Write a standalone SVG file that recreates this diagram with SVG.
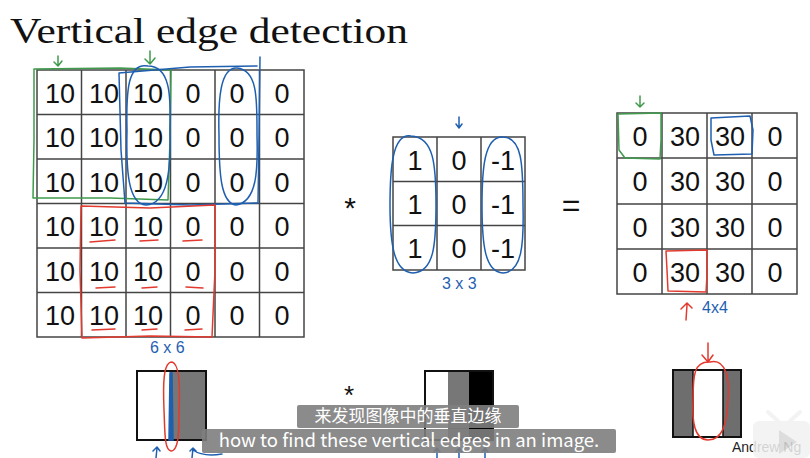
<svg xmlns="http://www.w3.org/2000/svg" width="810" height="458" viewBox="0 0 810 458">
  <defs>
    <style>
      .grid { fill: #fff; stroke: #444; stroke-width: 1.5; }
      .num { font-family: "Liberation Sans", Arial, sans-serif; font-size: 27px; fill: #111; text-anchor: middle; }
      .op { font-family: "Liberation Sans", Arial, sans-serif; fill: #111; text-anchor: middle; }
      .ink { fill: none; stroke-width: 1.5; stroke-linecap: round; stroke-linejoin: round; }
      .g { stroke: #3f9a4c; }
      .b { stroke: #1f5fb0; }
      .r { stroke: #e23a2e; }
      .hand { font-family: "Liberation Sans", Arial, sans-serif; font-size: 16px; fill: #1f5fb0; }
      .sub { fill: #7e7e7e; fill-opacity: 0.9; }
      .subtxt { font-family: "Noto Sans CJK SC", "Noto Sans", sans-serif; fill: #fff; text-anchor: middle; }
    </style>
  </defs>

  <rect width="810" height="458" fill="#fff"/>

  <!-- title -->
  <text x="10" y="43" font-family="'Liberation Serif', 'DejaVu Serif', serif" font-size="36" fill="#111" textLength="398" lengthAdjust="spacingAndGlyphs">Vertical edge detection</text>

  <!-- 6x6 input image -->
  <g id="input-matrix">
    <rect class="grid" x="37" y="70" width="267" height="267"/>
    <path d="M81.5 70V337M126 70V337M170.5 70V337M215 70V337M259.5 70V337M37 114.5H304M37 159H304M37 203.5H304M37 248H304M37 292.5H304" stroke="#444" stroke-width="1.5"/>
    <g class="num">
      <text x="60" y="103">10</text><text x="104" y="103">10</text><text x="148" y="103">10</text><text x="193" y="103">0</text><text x="237" y="103">0</text><text x="282" y="103">0</text>
      <text x="60" y="147">10</text><text x="104" y="147">10</text><text x="148" y="147">10</text><text x="193" y="147">0</text><text x="237" y="147">0</text><text x="282" y="147">0</text>
      <text x="60" y="192">10</text><text x="104" y="192">10</text><text x="148" y="192">10</text><text x="193" y="192">0</text><text x="237" y="192">0</text><text x="282" y="192">0</text>
      <text x="60" y="236">10</text><text x="104" y="236">10</text><text x="148" y="236">10</text><text x="193" y="236">0</text><text x="237" y="236">0</text><text x="282" y="236">0</text>
      <text x="60" y="281">10</text><text x="104" y="281">10</text><text x="148" y="281">10</text><text x="193" y="281">0</text><text x="237" y="281">0</text><text x="282" y="281">0</text>
      <text x="60" y="325">10</text><text x="104" y="325">10</text><text x="148" y="325">10</text><text x="193" y="325">0</text><text x="237" y="325">0</text><text x="282" y="325">0</text>
    </g>
  </g>

  <!-- 3x3 filter -->
  <g id="filter">
    <rect class="grid" x="393" y="137" width="132" height="133"/>
    <path d="M437 137V270M481 137V270M393 181.5H525M393 225.5H525" stroke="#444" stroke-width="1.5"/>
    <g class="num">
      <text x="415" y="170">1</text><text x="459" y="170">0</text><text x="503" y="170">-1</text>
      <text x="415" y="214">1</text><text x="459" y="214">0</text><text x="503" y="214">-1</text>
      <text x="415" y="258">1</text><text x="459" y="258">0</text><text x="503" y="258">-1</text>
    </g>
  </g>

  <!-- 4x4 output -->
  <g id="output-matrix">
    <rect class="grid" x="617" y="113" width="180" height="181"/>
    <path d="M662 113V294M707 113V294M752 113V294M617 158H797M617 204H797M617 249H797" stroke="#444" stroke-width="1.5"/>
    <g class="num">
      <text x="640" y="146">0</text><text x="685" y="146">30</text><text x="730" y="146">30</text><text x="775" y="146">0</text>
      <text x="640" y="191">0</text><text x="685" y="191">30</text><text x="730" y="191">30</text><text x="775" y="191">0</text>
      <text x="640" y="237">0</text><text x="685" y="237">30</text><text x="730" y="237">30</text><text x="775" y="237">0</text>
      <text x="640" y="282">0</text><text x="685" y="282">30</text><text x="730" y="282">30</text><text x="775" y="282">0</text>
    </g>
  </g>

  <!-- operators -->
  <g id="operators">
    <text class="op" x="350" y="218" font-size="30">*</text>
    <text class="op" x="571" y="216" font-size="32">=</text>
    <text class="op" x="349" y="404" font-size="26">*</text>
  </g>

  <!-- picture versions of the three matrices -->
  <g id="input-image">
    <rect x="137" y="371" width="33" height="69" fill="#fff"/>
    <rect x="170" y="371" width="36" height="69" fill="#777"/>
    <rect x="137" y="371" width="69" height="69" fill="none" stroke="#111" stroke-width="2"/>
  </g>
  <g id="filter-image">
    <rect x="425" y="371" width="23" height="69" fill="#fff"/>
    <rect x="448" y="371" width="21" height="69" fill="#777"/>
    <rect x="469" y="371" width="24" height="69" fill="#000"/>
    <rect x="425" y="371" width="68" height="69" fill="none" stroke="#111" stroke-width="2"/>
  </g>
  <g id="output-image">
    <rect x="673" y="370" width="20" height="67" fill="#6e6e6e"/>
    <rect x="693" y="370" width="30" height="67" fill="#fff"/>
    <rect x="723" y="370" width="18" height="67" fill="#6e6e6e"/>
    <path d="M693 370V437M723 370V437" stroke="#111" stroke-width="1.5"/>
    <rect x="673" y="370" width="68" height="67" fill="none" stroke="#111" stroke-width="2"/>
  </g>

  <!-- pen annotations -->
  <g id="annotations">
    <!-- green: top-left window and result -->
    <path class="ink g" d="M58 56V66M54 62L58 66L62 61M150 51V64M145 59L150 64L155 58"/>
    <path class="ink g" d="M34 69L120 68L171 70L170 140L168 200L110 198L33 198L34 140Z"/>
    <path class="ink g" d="M640 96V107M636 103L640 107L644 103"/>
    <path class="ink g" d="M618 114L661 113L661 140L660 159L625 158L619 150Z"/>

    <!-- blue: window shifted two columns, and highlighted columns -->
    <path class="ink b" d="M119 73L190 67L257 66M260 57L259 140L258 203L190 205L125 203L121 150L119 73"/>
    <path class="ink b" d="M148 66C128 62 126 90 127 130C126 170 128 204 146 205C168 204 171 170 170 130C171 95 170 66 148 66Z"/>
    <path class="ink b" d="M237 68C220 67 218 100 219 135C219 175 221 203 236 205C257 202 258 170 257 135C257 100 258 70 237 68Z"/>
    <path class="ink b" d="M711 118L750 116L753 130L752 154L714 155L711 140Z"/>
    <path class="ink b" d="M459 117V127M456 124L459 128L462 124"/>
    <path class="ink b" d="M411 136C392 133 390 170 390 205C390 245 394 272 413 273C434 272 436 245 436 205C436 165 434 137 411 136Z"/>
    <path class="ink b" d="M503 137C484 136 482 170 482 205C482 245 485 272 503 273C522 272 524 245 523 205C523 165 522 137 503 137Z"/>

    <!-- red: lower window, underlined entries and matching output cell -->
    <path class="ink r" d="M81 206L150 208L215 205L215 270L212 337L150 336L82 338L80 270Z"/>
    <path class="ink r" d="M90 242L115 240M140 241L158 240M183 241L202 240M96 288L115 287M142 288L157 287M186 287L203 288M92 330L115 329M142 330L157 329M185 330L202 329"/>
    <path class="ink r" d="M666 251L707 250L707 275L706 292L668 291L667 270Z"/>
    <path class="ink r" d="M686 320L687 305M681 309L687 303L692 308"/>
    <path class="ink r" d="M708 343V362M702 355L708 362L713 355"/>
    <path class="ink r" d="M710 362C726 358 730 380 728 400C727 425 722 440 708 440C694 440 692 420 693 400C693 375 694 361 710 362Z"/>

    <!-- edge in the input picture -->
    <path d="M170 373L172 373L173 440L169 440Z" fill="#1f5fb0" stroke="#1f5fb0" stroke-width="1.5"/>
    <path class="ink r" d="M172 362C180 364 180 390 179 410C179 430 179 451 171 451C164 450 165 430 164 410C163 385 163 362 172 362Z"/>

    <!-- small arrows under the pictures -->
    <path class="ink b" d="M156 458L157 448M153 451L157 447L160 451M192 458L193 448M190 451L193 448L196 451M193 450C200 455 210 456 222 454"/>
    <path class="ink b" d="M437 458L437 449M434 452L437 448L440 452M459 458L459 449M456 452L459 448L462 452M485 458L485 449M482 452L485 448L488 452"/>

    <!-- size labels -->
    <text class="hand" x="150" y="353">6 x 6</text>
    <text class="hand" x="442" y="289" font-size="14">3 x 3</text>
    <text class="hand" x="702" y="313">4x4</text>
  </g>

  <!-- caption bars -->
  <g id="captions">
    <rect class="sub" x="297" y="405" width="222" height="23" rx="2"/>
    <text class="subtxt" x="408" y="422" font-size="17">来发现图像中的垂直边缘</text>
    <rect class="sub" x="202" y="429" width="414" height="24" rx="2"/>
    <text class="subtxt" x="409" y="447" font-size="18.5" font-family="'Open Sans', 'Noto Sans', sans-serif">how to find these vertical edges in an image.</text>
  </g>

  <!-- credit -->
  <text x="732" y="452" font-family="'Liberation Sans', Arial, sans-serif" font-size="14" fill="#222">Andrew Ng</text>

  <!-- player overlay -->
  <g id="player-overlay" opacity="0.85">
    <rect x="753" y="421" width="57" height="37" rx="6" fill="#f2f2f2"/>
    <path d="M778 421L768 412M790 421L800 412" stroke="#f2f2f2" stroke-width="4" stroke-linecap="round"/>
    <path d="M779 430L797 442L779 454Z" fill="#d8d8d8"/>
  </g>
</svg>
